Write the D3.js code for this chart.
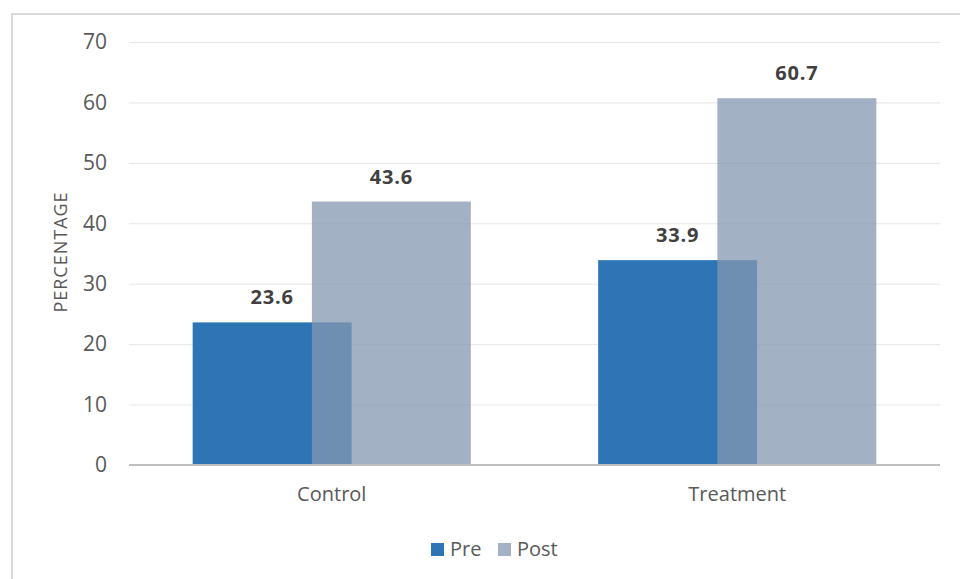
<!DOCTYPE html>
<html>
<head>
<meta charset="utf-8">
<script src="https://cdn.jsdelivr.net/npm/d3@7"></script>
<style>
  html, body { margin: 0; padding: 0; background: #fff; }
  svg { display: block; font-family: "Open Sans", "Liberation Sans", sans-serif; }
</style>
</head>
<body>
<svg id="chart" width="960" height="579"></svg>
<script>
// Chart data
const categories = ["Control", "Treatment"];
const seriesNames = ["Pre", "Post"];
const preValues = [23.6, 33.9];
const postValues = [43.6, 60.7];
const yTicks = [0, 10, 20, 30, 40, 50, 60, 70];
const yTitle = "PERCENTAGE";

const colors = { Pre: "#2e75b6", Post: "#8497b0" };
const opacity = { Pre: 1, Post: 0.75 };

const svg = d3.select("#chart");
const plot = { left: 129, right: 940, top: 42, bottom: 465 };

// Outer chart frame
svg.append("path")
  .attr("d", "M12,579 V14 H960")
  .attr("fill", "none")
  .attr("stroke", "#d9d9d9")
  .attr("stroke-width", 2);

const x = d3.scaleBand()
  .domain(categories)
  .range([plot.left, plot.right])
  .paddingInner(0)
  .paddingOuter(0);

const y = d3.scaleLinear()
  .domain([0, 70])
  .range([plot.bottom, plot.top]);

// Horizontal gridlines
const grid = svg.append("g")
  .attr("transform", `translate(${plot.left},0)`)
  .call(d3.axisLeft(y).tickValues(yTicks.filter(t => t > 0))
    .tickSize(-(plot.right - plot.left)).tickFormat(""));
grid.select(".domain").remove();
grid.selectAll("line").attr("stroke", "#e6e6e6").attr("stroke-width", 1);

// Y tick labels
const yAxis = svg.append("g")
  .attr("transform", `translate(${plot.left},0)`)
  .call(d3.axisLeft(y).tickValues(yTicks).tickSize(0).tickPadding(22).tickFormat(d3.format("d")));
yAxis.select(".domain").remove();
yAxis.selectAll("text")
  .attr("fill", "#595959")
  .style("font-size", "21px")
  .style("font-family", "'Open Sans', sans-serif");

// Y axis title
svg.append("text")
  .attr("transform", "translate(67,252) rotate(-90)")
  .attr("text-anchor", "middle")
  .attr("fill", "#595959")
  .style("font-size", "18px")
  .style("letter-spacing", "1px")
  .text(yTitle);

// Bars: each group is two bars of equal width, the second overlapping the first by 25%
const barW = x.bandwidth() * 0.392;
const step = barW * 0.75;
const groupW = barW + step;

const rows = categories.map((c, i) => ({ cat: c, Pre: preValues[i], Post: postValues[i] }));

seriesNames.forEach((s, si) => {
  const g = svg.append("g").attr("class", "series-" + s);
  g.selectAll("rect")
    .data(rows)
    .join("rect")
    .attr("x", d => x(d.cat) + x.bandwidth() / 2 - groupW / 2 + si * step)
    .attr("y", d => y(d[s]))
    .attr("width", barW)
    .attr("height", d => y(0) - y(d[s]))
    .attr("fill", colors[s])
    .attr("fill-opacity", opacity[s]);
});

// Value labels above each bar
seriesNames.forEach((s, si) => {
  svg.append("g").selectAll("text")
    .data(rows)
    .join("text")
    .attr("x", d => x(d.cat) + x.bandwidth() / 2 - groupW / 2 + si * step + barW / 2)
    .attr("y", d => y(d[s]) - 18)
    .attr("text-anchor", "middle")
    .attr("fill", "#404040")
    .style("font-size", "20px")
    .style("font-weight", "bold")
    .style("letter-spacing", "0.8px")
    .text(d => d[s].toFixed(1));
});

// X axis baseline
svg.append("line")
  .attr("x1", plot.left).attr("x2", plot.right)
  .attr("y1", y(0)).attr("y2", y(0))
  .attr("stroke", "#bfbfbf")
  .attr("stroke-width", 2);

// Category labels
const xAxis = svg.append("g")
  .attr("transform", `translate(0,${plot.bottom})`)
  .call(d3.axisBottom(x).tickSize(0).tickPadding(22));
xAxis.select(".domain").remove();
xAxis.selectAll("text")
  .attr("fill", "#595959")
  .style("font-size", "20px")
  .style("font-family", "'Open Sans', sans-serif");

// Legend
const legendItems = [
  { name: "Pre", sx: 431, tx: 450 },
  { name: "Post", sx: 498, tx: 517 }
];
const legend = svg.append("g");
legendItems.forEach(it => {
  legend.append("rect")
    .attr("x", it.sx).attr("y", 543)
    .attr("width", 13).attr("height", 13)
    .attr("fill", colors[it.name])
    .attr("fill-opacity", opacity[it.name]);
  legend.append("text")
    .attr("x", it.tx).attr("y", 556)
    .attr("fill", "#595959")
    .style("font-size", "20px")
    .text(it.name);
});
</script>
</body>
</html>
